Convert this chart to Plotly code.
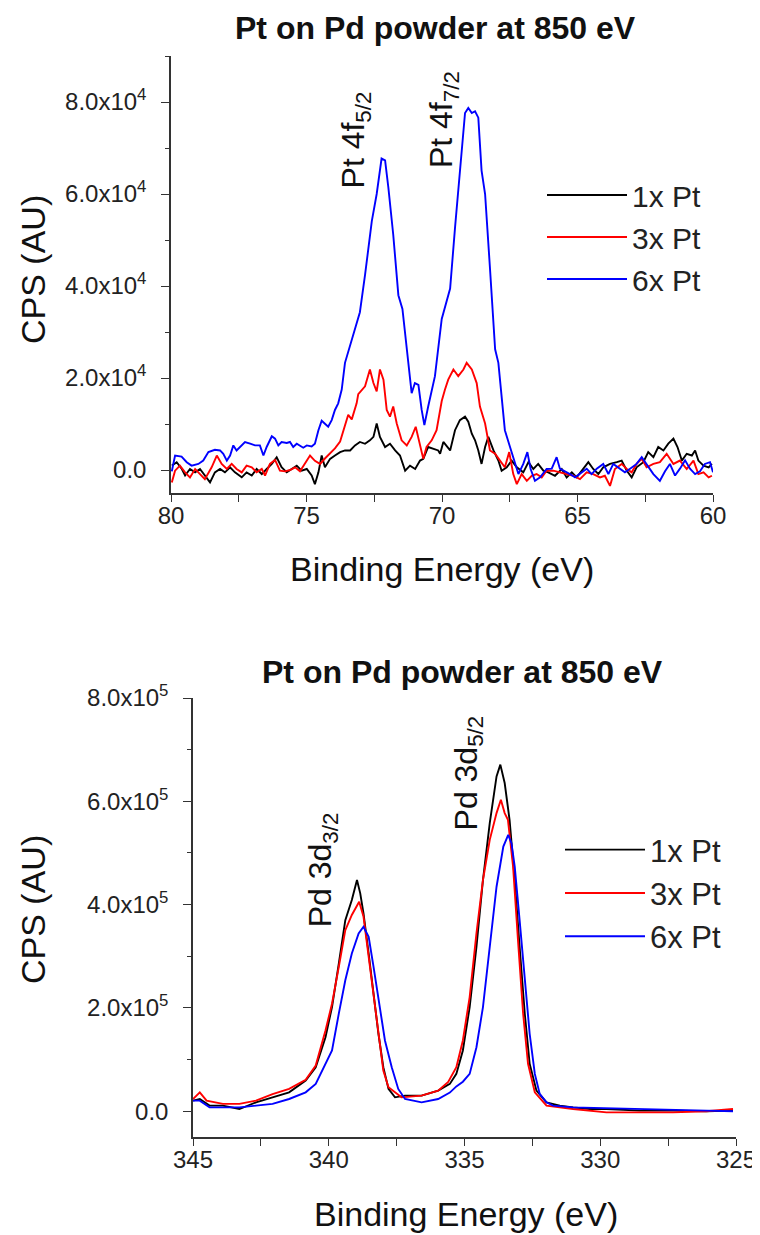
import plotly.graph_objects as go

# ---------------- Top panel: Pt 4f ----------------
pt_1x_e = [79.97, 79.79, 79.60, 79.48, 79.30, 79.11, 78.93, 78.75, 78.56, 78.38, 78.19, 78.01, 77.82, 77.64,
           77.39, 77.21, 77.02, 76.84, 76.65, 76.47, 76.28, 76.10, 75.92, 75.73, 75.55, 75.36, 75.18, 74.99,
           74.81, 74.69, 74.56, 74.44, 74.32, 74.13, 73.95, 73.76, 73.58, 73.39, 73.21, 73.03, 72.84, 72.66,
           72.53, 72.41, 72.29, 72.10, 71.92, 71.73, 71.55, 71.36, 71.18, 70.99, 70.81, 70.69, 70.51, 70.32,
           70.14, 70.07, 69.95, 69.70, 69.52, 69.34, 69.15, 69.03, 68.90, 68.78, 68.66, 68.54, 68.41, 68.29,
           68.10, 67.92, 67.80, 67.61, 67.43, 67.24, 67.00, 66.81, 66.63, 66.45, 66.26, 66.08, 65.83, 65.58,
           65.40, 65.21, 65.03, 64.84, 64.60, 64.42, 64.23, 64.05, 63.80, 63.55, 63.37, 63.18, 63.00, 62.82,
           62.57, 62.39, 62.20, 62.02, 61.83, 61.65, 61.46, 61.31, 61.15, 60.97, 60.78, 60.66, 60.54, 60.35,
           60.16, 60.04]
pt_1x_v = [950, 1680, 220, -1200, 220, -510, 220, -1200, -2700, -510, 220, -510, 590, -510,
           -1600, -510, -1200, 220, -880, 220, 1320, 2750, 590, -510, 220, 950, -150, 220,
           -1200, -3080, -510, 3150, 590, 2420, 3150, 3890, 4250, 4250, 5350, 6100, 5700, 6450,
           7200, 10100, 7200, 5000, 5700, 4250, 3150, -150, 950, 220, 2050, 2420, 5000, 4700,
           4250, 3520, 6100, 4250, 8650, 10850, 11600, 10500, 7900, 6450, 4250, 1320, 5000, 7200,
           4250, 2050, -150, 590, 2050, 590, -510, 1700, 220, 1320, -150, -510, -1250, 220,
           -1600, -510, -1600, -150, 1700, 220, -880, 590, 1320, 1700, 2050, -150, -1600, 590,
           1700, 3890, 2790, 5000, 4250, 5720, 6820, 5000, 2050, 3520, 3150, 4250, 2050, 950,
           590, 1320]

pt_3x_e = [79.97, 79.85, 79.67, 79.48, 79.30, 79.11, 78.93, 78.75, 78.50, 78.31, 78.13, 77.94, 77.76, 77.58,
           77.39, 77.21, 77.02, 76.84, 76.65, 76.53, 76.35, 76.16, 75.98, 75.79, 75.61, 75.42, 75.24, 75.06,
           74.87, 74.69, 74.50, 74.32, 74.13, 73.95, 73.76, 73.58, 73.46, 73.33, 73.15, 73.09, 72.96, 72.84,
           72.66, 72.53, 72.41, 72.29, 72.16, 72.04, 71.92, 71.80, 71.67, 71.49, 71.30, 71.12, 70.97, 70.81,
           70.69, 70.57, 70.38, 70.20, 70.01, 69.89, 69.77, 69.58, 69.40, 69.21, 69.09, 68.90, 68.72, 68.60,
           68.41, 68.23, 68.04, 67.86, 67.68, 67.52, 67.37, 67.24, 67.06, 66.87, 66.69, 66.51, 66.32, 66.14,
           65.89, 65.65, 65.40, 65.15, 64.91, 64.66, 64.42, 64.17, 63.99, 63.80, 63.62, 63.37, 63.18, 63.00,
           62.82, 62.63, 62.45, 62.20, 61.96, 61.71, 61.46, 61.22, 60.97, 60.72, 60.54, 60.35, 60.16, 60.04]
pt_3x_v = [-2710, -150, 950, -510, -1610, 220, -880, -2000, 590, 3150, 1320, 220, 1320, 220,
           -510, 950, 590, -510, 220, -1200, 1320, 2200, -150, -290, 0, 590, -290, 1320,
           3150, 2000, 1320, 2500, 3600, 4700, 6200, 9400, 12000, 11000, 14500, 16500, 17450, 18200,
           21850, 18900, 17100, 21850, 19650, 13050, 11600, 13800, 10100, 6450, 5350, 7200, 9400, 5720,
           2420, 5000, 6450, 8650, 15000, 17500, 19650, 21850, 20400, 21850, 23300, 21850, 18900, 13800,
           10100, 4250, 3520, 2050, 590, 3890, -880, -3080, -880, -2350, -1250, -880, -1600, -150,
           -150, -510, -880, -1250, -1980, -510, -880, -1600, -1250, -3450, 220, 1320, 220, -510,
           1320, 2420, 590, 1320, 1700, 3520, 1320, 2050, 220, 2050, -880, -510, -1600, -1250]

pt_6x_e = [79.97, 79.85, 79.61, 79.42, 79.24, 78.99, 78.81, 78.62, 78.38, 78.19, 78.07, 77.94, 77.82, 77.70,
           77.58, 77.45, 77.27, 77.08, 76.90, 76.72, 76.59, 76.47, 76.28, 76.16, 76.04, 75.92, 75.73, 75.61,
           75.49, 75.36, 75.24, 75.12, 74.99, 74.81, 74.69, 74.56, 74.44, 74.32, 74.20, 74.07, 73.95, 73.83,
           73.70, 73.58, 73.33, 73.15, 73.03, 72.84, 72.59, 72.41, 72.23, 72.10, 71.98, 71.80, 71.61, 71.46,
           71.30, 71.12, 71.00, 70.87, 70.75, 70.65, 70.51, 70.26, 70.01, 69.83, 69.70, 69.52, 69.34, 69.15,
           69.03, 68.90, 68.78, 68.66, 68.54, 68.41, 68.23, 68.04, 67.92, 67.80, 67.68, 67.49, 67.31, 67.18,
           67.00, 66.85, 66.73, 66.57, 66.38, 66.14, 65.95, 65.77, 65.65, 65.46, 65.28, 65.09, 64.91, 64.66,
           64.48, 64.29, 64.05, 63.86, 63.68, 63.43, 63.25, 63.06, 62.82, 62.63, 62.45, 62.20, 61.96, 61.77,
           61.59, 61.40, 61.22, 61.03, 60.85, 60.66, 60.48, 60.30, 60.11, 60.00]
pt_6x_v = [-300, 3150, 2930, 1690, 950, 1320, 2050, 3890, 4400, 4250, 3520, 2050, 3150, 5350,
           4250, 5000, 6090, 5720, 5350, 5350, 3150, 5000, 7330, 6820, 5350, 6090, 5870, 6090,
           5000, 5720, 5350, 4840, 5350, 5130, 5720, 8650, 10700, 10100, 9390, 10850, 13050, 14500,
           17500, 23300, 28450, 32100, 34300, 42400, 54100, 60000, 67700, 67300, 61450, 51200, 38000, 35000,
           27000, 16700, 18900, 18500, 13050, 9750, 13800, 20400, 32850, 36500, 39450, 52650, 65100, 77600,
           78700, 77600, 78000, 76600, 65100, 60000, 43850, 26250, 23300, 16000, 8650, 5000, 1320, -880,
           1320, 3890, 220, -2350, -1600, 220, 290, 2790, 290, -290, -880, -1600, -880, 290,
           -880, 290, 1320, -880, 1320, 220, -510, 290, 1320, 2790, 1320, -880, -2350, -290,
           1320, -1200, 290, 2100, 290, -880, -290, 1320, 1700, -510]

# ---------------- Bottom panel: Pd 3d ----------------
pd_1x_e = [345.0, 344.75, 344.39, 343.90, 343.29, 342.68, 342.07, 341.46, 340.85, 340.48, 340.12, 339.88,
           339.63, 339.39, 339.15, 338.96, 338.84, 338.72, 338.53, 338.35, 338.17, 337.99, 337.80, 337.56,
           337.19, 336.58, 335.97, 335.54, 335.30, 335.06, 334.81, 334.56, 334.32, 334.07, 333.82, 333.68,
           333.52, 333.34, 333.15, 332.97, 332.78, 332.60, 332.35, 331.98, 331.49, 331.00, 330.39, 329.77,
           328.55, 327.32, 326.09, 325.11]
pd_1x_v = [20400, 23600, 10700, 10700, 4200, 17100, 26800, 36500, 59200, 85100, 143300, 201600,
           285800, 369900, 408800, 447600, 421800, 383000, 305300, 227600, 149900, 85100, 43100, 26800,
           30100, 30100, 39800, 52800, 72200, 117500, 201600, 318100, 447600, 557700, 648300, 671000,
           635400, 564200, 447600, 318100, 188800, 91700, 39800, 17100, 10700, 7400, 4200, 4200,
           1000, 1000, 0, 1000]

pd_3x_e = [345.0, 344.75, 344.50, 343.90, 343.29, 342.68, 342.07, 341.46, 340.85, 340.48, 340.12, 339.88,
           339.63, 339.39, 339.15, 338.88, 338.72, 338.53, 338.35, 338.17, 337.99, 337.80, 337.32, 336.58,
           335.97, 335.60, 335.30, 335.06, 334.81, 334.56, 334.32, 334.07, 333.82, 333.66, 333.52, 333.40,
           333.21, 333.03, 332.84, 332.66, 332.41, 331.98, 331.00, 329.77, 328.55, 327.32, 326.09, 325.11]
pd_3x_v = [23600, 36500, 20400, 14100, 14100, 20400, 33200, 43100, 60900, 88400, 156300, 208100,
           279300, 350500, 380000, 405500, 376900, 298800, 221000, 143300, 78500, 46300, 26800, 30100,
           39800, 56600, 85100, 136900, 221000, 344100, 447600, 525300, 577100, 603000, 577100, 564200,
           473500, 331100, 188800, 91700, 36500, 10700, 4200, -2300, -2300, -2300, 0, 4200]

pd_6x_e = [345.0, 344.75, 344.39, 343.90, 343.29, 342.68, 342.07, 341.46, 340.85, 340.48, 340.12, 339.88,
           339.63, 339.39, 339.15, 338.90, 338.72, 338.53, 338.35, 338.17, 337.93, 337.68, 337.44, 337.19,
           336.58, 335.97, 335.54, 335.30, 335.06, 334.81, 334.56, 334.32, 334.07, 333.82, 333.57, 333.39,
           333.27, 333.15, 332.97, 332.78, 332.60, 332.41, 332.23, 331.98, 331.74, 331.00, 329.77, 328.55,
           327.32, 326.09, 325.11]
pd_6x_v = [20400, 20400, 7400, 7400, 7400, 10700, 14100, 23600, 36500, 52800, 91700, 117500,
           188800, 253500, 305300, 344100, 357000, 337500, 279300, 214300, 136900, 85100, 43100, 23600,
           17100, 23600, 36000, 48000, 57000, 72200, 123900, 201600, 318100, 434600, 512300, 535000,
           518900, 473500, 369900, 253400, 149900, 72200, 33400, 17100, 10700, 7400, 5500, 4200,
           2200, 1000, 0]

series_names = ["1x Pt", "3x Pt", "6x Pt"]
series_colors = ["#000000", "#ff0000", "#0000ff"]

top_yticks = [0, 20000, 40000, 60000, 80000]
top_yticktext = ["0.0", "2.0x10<sup>4</sup>", "4.0x10<sup>4</sup>", "6.0x10<sup>4</sup>", "8.0x10<sup>4</sup>"]
bot_yticks = [0, 200000, 400000, 600000, 800000]
bot_yticktext = ["0.0", "2.0x10<sup>5</sup>", "4.0x10<sup>5</sup>", "6.0x10<sup>5</sup>", "8.0x10<sup>5</sup>"]
top_xticks = [80, 75, 70, 65, 60]
bot_xticks = [345, 340, 335, 330, 325]

title_text = "Pt on Pd powder at 850 eV"
FONT = "Liberation Sans, Arial, sans-serif"
AX = "#333333"

fig = go.Figure()
top_sets = [(pt_1x_e, pt_1x_v), (pt_3x_e, pt_3x_v), (pt_6x_e, pt_6x_v)]
bot_sets = [(pd_1x_e, pd_1x_v), (pd_3x_e, pd_3x_v), (pd_6x_e, pd_6x_v)]
for (e, v), name, col in zip(top_sets, series_names, series_colors):
    fig.add_trace(go.Scatter(x=e, y=v, mode="lines", name=name, line=dict(color=col, width=1.9),
                             xaxis="x", yaxis="y", legend="legend"))
for (e, v), name, col in zip(bot_sets, series_names, series_colors):
    fig.add_trace(go.Scatter(x=e, y=v, mode="lines", name=name, line=dict(color=col, width=1.9),
                             xaxis="x2", yaxis="y2", legend="legend2"))

# page body has an 8px offset; figure sized so it ends at the window edge
OFF = 8
W, H = 760 - OFF, 1235 - OFF
def px(xp):
    return (xp - OFF) / W
def py(yp):
    return 1 - (yp - OFF) / H

common_x = dict(showline=True, linecolor=AX, linewidth=1.5, ticks="outside", ticklen=7, tickwidth=1.3,
                tickcolor=AX, showgrid=False, zeroline=False, mirror=False, automargin=False,
                ticklabelstandoff=-7,
                tickfont=dict(family=FONT, size=24, color="#222222"))
common_y = dict(showline=True, linecolor=AX, linewidth=1.5, ticks="outside", ticklen=8, tickwidth=1.3,
                tickcolor=AX, showgrid=False, zeroline=False, mirror=False, automargin=False,
                ticklabelstandoff=10,
                tickfont=dict(family=FONT, size=24, color="#222222"))

fig.update_layout(
    width=W, height=H, autosize=False,
    margin=dict(l=0, r=0, t=0, b=0, pad=0, autoexpand=False),
    paper_bgcolor="white", plot_bgcolor="white", showlegend=True,
    xaxis=dict(domain=[px(171), px(713)], anchor="y", range=[80, 60], tickmode="array",
               tickvals=top_xticks, ticktext=[str(t) for t in top_xticks],
               minor=dict(tickvals=[77.5, 72.5, 67.5, 62.5], ticks="outside", ticklen=7, tickcolor=AX, tickwidth=1.3),
               **common_x),
    yaxis=dict(domain=[py(493), py(56)], anchor="x", range=[-5000, 90000], tickmode="array",
               tickvals=top_yticks, ticktext=top_yticktext,
               minor=dict(tickvals=[10000, 30000, 50000, 70000, 90000], ticks="outside", ticklen=4, tickcolor=AX, tickwidth=1.3),
               **common_y),
    xaxis2=dict(domain=[px(193), px(736)], anchor="y2", range=[345, 325], tickmode="array",
                tickvals=bot_xticks, ticktext=[str(t) for t in bot_xticks],
                minor=dict(tickvals=[342.5, 337.5, 332.5, 327.5], ticks="outside", ticklen=7, tickcolor=AX, tickwidth=1.3),
                **common_x),
    yaxis2=dict(domain=[py(1137), py(698)], anchor="x2", range=[-50000, 800000], tickmode="array",
                tickvals=bot_yticks, ticktext=bot_yticktext,
                minor=dict(tickvals=[100000, 300000, 500000, 700000], ticks="outside", ticklen=4, tickcolor=AX, tickwidth=1.3),
                **common_y),
    legend=dict(x=px(542), y=py(169), xanchor="left", yanchor="top", bgcolor="rgba(0,0,0,0)",
                font=dict(family=FONT, size=30, color="#222222"), itemwidth=80, tracegroupgap=0),
    legend2=dict(x=px(560), y=py(823), xanchor="left", yanchor="top", bgcolor="rgba(0,0,0,0)",
                 font=dict(family=FONT, size=31, color="#222222"), itemwidth=80, tracegroupgap=0),
)

def ann(text, x, y, xref="paper", yref="paper", size=32, angle=0, bold=False):
    return dict(text=("<b>" + text + "</b>") if bold else text, x=x, y=y, xref=xref, yref=yref,
                xanchor="center", yanchor="middle", textangle=angle, showarrow=False,
                font=dict(family=FONT, size=size, color="#111111"))

annotations = [
    ann(title_text, px(435), py(28), size=32, bold=True),
    ann(title_text, px(462), py(672), size=32, bold=True),
    ann("Binding Energy (eV)", px(442), py(569), size=34),
    ann("Binding Energy (eV)", px(466), py(1214), size=34),
    ann("CPS (AU)", px(33), py(270), size=34, angle=-90),
    ann("CPS (AU)", px(33), py(910), size=34, angle=-90),
    ann("Pt 4f<sub>5/2</sub>", 73.2, 71700, "x", "y", angle=-90),
    ann("Pt 4f<sub>7/2</sub>", 69.92, 76100, "x", "y", angle=-90),
    ann("Pd 3d<sub>3/2</sub>", 340.2, 467000, "x2", "y2", angle=-90),
    ann("Pd 3d<sub>5/2</sub>", 334.85, 655000, "x2", "y2", angle=-90),
]
fig.update_layout(annotations=annotations)

fig.write_html("out.html")
